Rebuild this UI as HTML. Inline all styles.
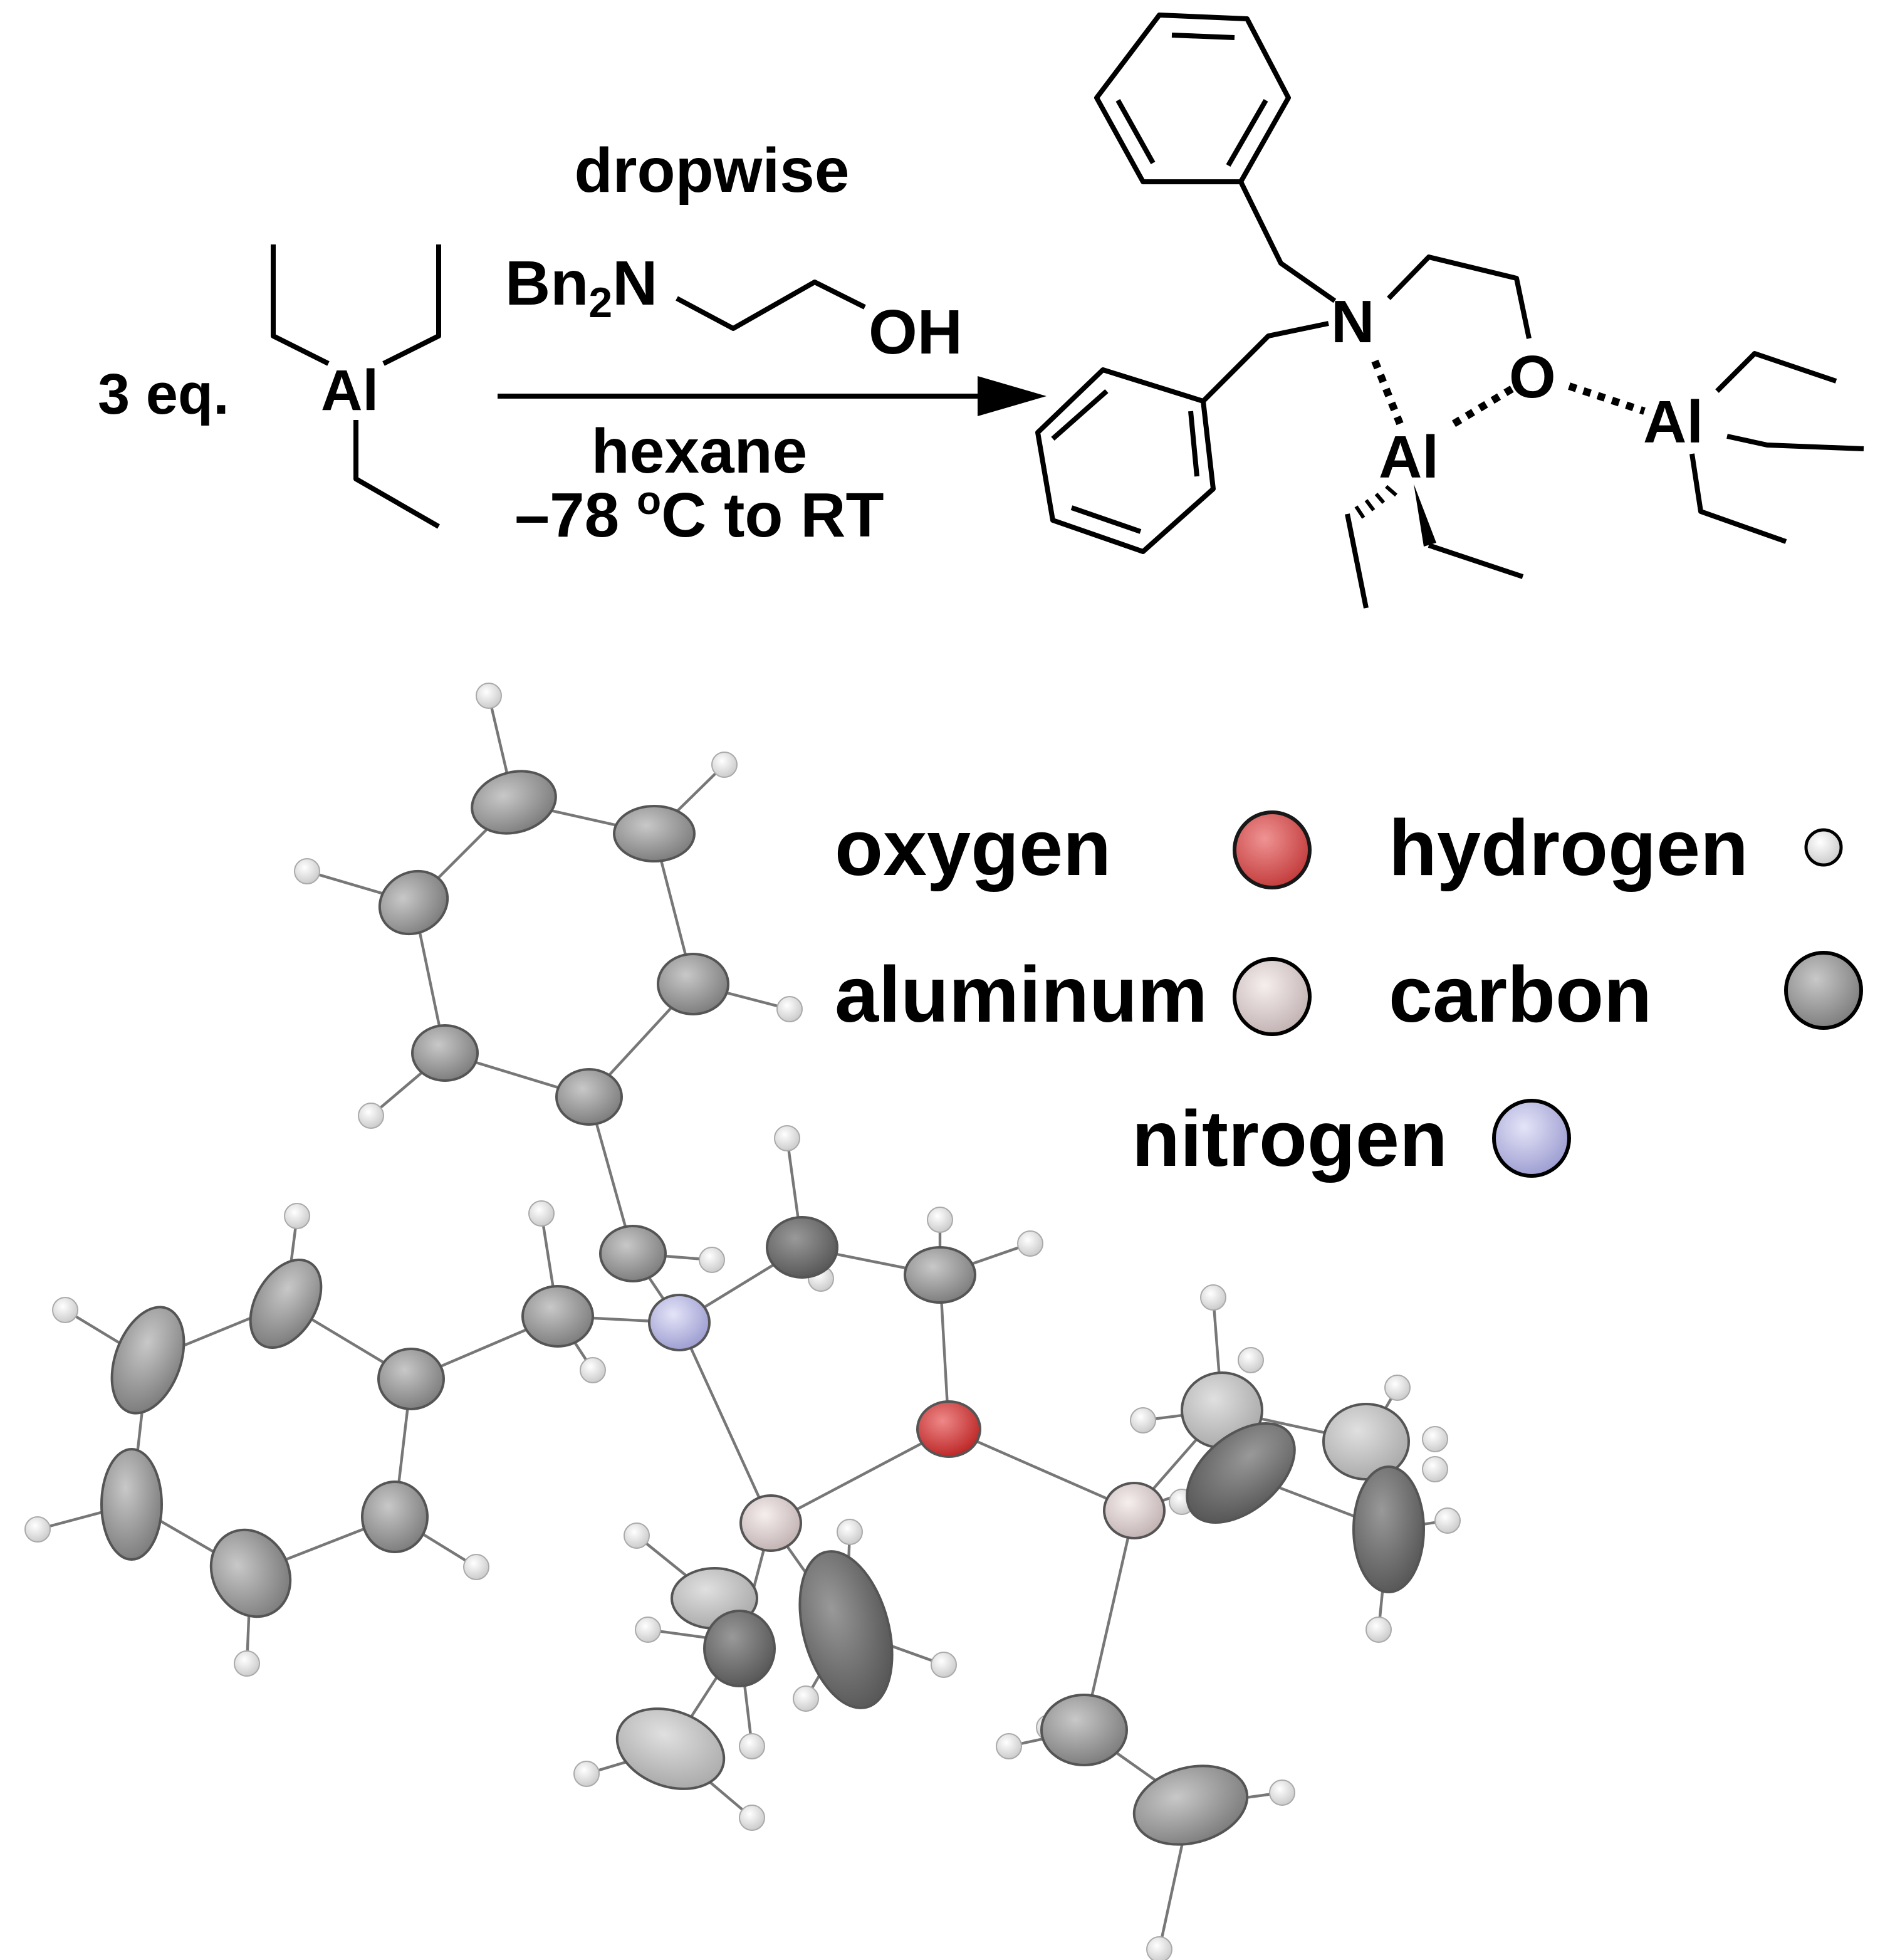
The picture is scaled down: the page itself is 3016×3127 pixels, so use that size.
<!DOCTYPE html>
<html><head><meta charset="utf-8"><style>
html,body{margin:0;padding:0;background:#fff;}
svg{display:block;}
text{font-family:"Liberation Sans",Arial,sans-serif;font-weight:bold;fill:#000;}
</style></head><body>
<svg width="3016" height="3127" viewBox="0 0 1508 1563.5" xmlns="http://www.w3.org/2000/svg">
<defs>
<radialGradient id="gC" cx="40%" cy="35%" r="70%"><stop offset="0" stop-color="#c8c8c8"/><stop offset="1" stop-color="#7a7a7a"/></radialGradient>
<radialGradient id="gD" cx="40%" cy="35%" r="70%"><stop offset="0" stop-color="#999"/><stop offset="1" stop-color="#555"/></radialGradient>
<radialGradient id="gL" cx="40%" cy="35%" r="70%"><stop offset="0" stop-color="#e0e0e0"/><stop offset="1" stop-color="#a8a8a8"/></radialGradient>
<radialGradient id="gH" cx="40%" cy="35%" r="70%"><stop offset="0" stop-color="#fff"/><stop offset="1" stop-color="#c8c8c8"/></radialGradient>
<radialGradient id="gO" cx="40%" cy="35%" r="70%"><stop offset="0" stop-color="#e88"/><stop offset="1" stop-color="#b22"/></radialGradient>
<radialGradient id="gN" cx="40%" cy="35%" r="70%"><stop offset="0" stop-color="#e4e4f8"/><stop offset="1" stop-color="#9a9ad0"/></radialGradient>
<radialGradient id="gA" cx="40%" cy="35%" r="70%"><stop offset="0" stop-color="#f6eeee"/><stop offset="1" stop-color="#c0b0b0"/></radialGradient>
</defs>

<!-- Top scheme -->
<g stroke="#000" stroke-width="4" fill="none" stroke-linejoin="round">
<polyline points="218,195 218,268 262,290"/>
<polyline points="350,195 350,268 306,290"/>
<polyline points="284,335 284,382 350,420"/>
<polyline points="540,238 585,262 650,225 690,245"/>
<line x1="397" y1="316" x2="790" y2="316"/>
</g>
<path d="M780,300 L835,316 L780,332 z" fill="#000"/>
<text x="78" y="330" font-size="46">3 eq.</text>
<text x="256" y="327" font-size="46">Al</text>
<text x="568" y="153" font-size="50" text-anchor="middle">dropwise</text>
<text x="403" y="243" font-size="50">Bn<tspan font-size="34" dy="10">2</tspan><tspan dy="-10">N</tspan></text>
<text x="693" y="282" font-size="50">OH</text>
<text x="558" y="377" font-size="50" text-anchor="middle">hexane</text>
<text x="558" y="428" font-size="50" text-anchor="middle">–78 <tspan font-size="32" dy="-18">o</tspan><tspan dy="18">C to RT</tspan></text>

<!-- product -->
<g stroke="#000" stroke-width="4" fill="none" stroke-linejoin="round">
<polygon points="925,12 995,15 1028,78 990,145 912,145 875,78"/>
<line x1="935" y1="28" x2="985" y2="30"/>
<line x1="1010" y1="80" x2="980" y2="132"/>
<line x1="920" y1="130" x2="892" y2="80"/>
<polyline points="990,145 1022,210 1065,240"/>
<polygon points="960,320 880,295 828,345 840,415 912,440 968,390"/>
<line x1="883" y1="312" x2="840" y2="350"/>
<line x1="855" y1="405" x2="910" y2="424"/>
<line x1="955" y1="380" x2="950" y2="328"/>
<polyline points="1060,258 1012,268 960,320"/>
<polyline points="1108,238 1140,205 1210,222 1220,270"/>
<polyline points="1370,312 1400,282 1465,304"/>
<polyline points="1378,348 1410,355 1487,358"/>
<polyline points="1350,362 1357,408 1425,432"/>
<polyline points="1075,410 1090,485"/>
<polyline points="1140,435 1215,460"/>
</g>
<g stroke="#000" stroke-width="6" stroke-dasharray="6,6">
<line x1="1097" y1="288" x2="1117" y2="338"/>
<line x1="1160" y1="338" x2="1210" y2="308"/>
<line x1="1252" y1="308" x2="1312" y2="328"/>
</g>
<g stroke="#000" stroke-width="3">
<line x1="1106" y1="388" x2="1114" y2="395"/><line x1="1098" y1="394" x2="1104" y2="401"/><line x1="1090" y1="399" x2="1096" y2="407"/><line x1="1082" y1="404" x2="1088" y2="413"/>
</g>
<path d="M1128,386 L1136,436 L1146,433 z" fill="#000"/>
<text x="1062" y="273" font-size="48">N</text>
<text x="1204" y="317" font-size="48">O</text>
<text x="1100" y="381" font-size="48">Al</text>
<text x="1311" y="353" font-size="48">Al</text>

<!-- Legend -->
<text x="666" y="698" font-size="63">oxygen</text>
<circle cx="1015" cy="678" r="30" fill="url(#gO)" stroke="#000" stroke-width="3" opacity="0.9"/>
<text x="1108" y="698" font-size="63">hydrogen</text>
<circle cx="1455" cy="676" r="14" fill="url(#gH)" stroke="#000" stroke-width="2.5"/>
<text x="666" y="815" font-size="63">aluminum</text>
<circle cx="1015" cy="795" r="30" fill="url(#gA)" stroke="#000" stroke-width="3"/>
<text x="1108" y="815" font-size="63">carbon</text>
<circle cx="1455" cy="790" r="30" fill="url(#gC)" stroke="#000" stroke-width="3"/>
<text x="903" y="930" font-size="63">nitrogen</text>
<circle cx="1222" cy="908" r="30" fill="url(#gN)" stroke="#000" stroke-width="3"/>

<!-- ORTEP bonds -->
<g stroke="#777" stroke-width="2.2" fill="none">
<polygon points="410,640 522,665 553,785 470,875 355,840 330,720"/>
<line x1="410" y1="640" x2="390" y2="555"/><line x1="522" y1="665" x2="578" y2="610"/>
<line x1="330" y1="720" x2="245" y2="695"/><line x1="553" y1="785" x2="630" y2="805"/>
<line x1="355" y1="840" x2="296" y2="890"/>
<polyline points="470,875 505,1000 542,1055"/><line x1="505" y1="1000" x2="568" y2="1005"/>
<polyline points="328,1100 445,1050 542,1055"/><line x1="445" y1="1050" x2="432" y2="968"/><line x1="445" y1="1050" x2="473" y2="1093"/>
<polygon points="328,1100 228,1040 118,1085 105,1200 200,1255 315,1210"/>
<line x1="228" y1="1040" x2="237" y2="970"/><line x1="118" y1="1085" x2="52" y2="1045"/>
<line x1="105" y1="1200" x2="30" y2="1220"/><line x1="200" y1="1255" x2="197" y2="1327"/><line x1="315" y1="1210" x2="380" y2="1250"/>
<polyline points="542,1055 640,995 750,1017 757,1140 615,1215 542,1055"/>
<line x1="640" y1="995" x2="628" y2="908"/><line x1="640" y1="995" x2="655" y2="1020"/>
<line x1="750" y1="1017" x2="750" y2="973"/><line x1="750" y1="1017" x2="822" y2="992"/>
<line x1="757" y1="1140" x2="905" y2="1205"/>
<polyline points="615,1215 590,1310 535,1395"/><line x1="615" y1="1215" x2="675" y2="1300"/>
<line x1="590" y1="1310" x2="517" y2="1300"/><line x1="590" y1="1310" x2="600" y2="1393"/>
<line x1="535" y1="1395" x2="468" y2="1415"/><line x1="535" y1="1395" x2="600" y2="1450"/><line x1="570" y1="1275" x2="508" y2="1225"/>
<line x1="675" y1="1300" x2="678" y2="1222"/><line x1="675" y1="1300" x2="753" y2="1328"/><line x1="675" y1="1300" x2="643" y2="1355"/>
<polyline points="905,1205 865,1380 950,1440"/><line x1="865" y1="1380" x2="805" y2="1393"/>
<line x1="950" y1="1440" x2="925" y2="1555"/><line x1="950" y1="1440" x2="1023" y2="1430"/>
<polyline points="905,1205 990,1175 1108,1220"/><polyline points="905,1205 975,1125 1090,1150"/>
<line x1="975" y1="1125" x2="968" y2="1035"/><line x1="975" y1="1125" x2="912" y2="1133"/>
<line x1="1090" y1="1150" x2="1115" y2="1107"/><line x1="1108" y1="1220" x2="1155" y2="1213"/><line x1="1108" y1="1220" x2="1100" y2="1300"/>
</g>

<!-- H atoms -->
<g fill="url(#gH)" stroke="#aaa" stroke-width="1">
<circle cx="390" cy="555" r="10"/><circle cx="578" cy="610" r="10"/><circle cx="245" cy="695" r="10"/><circle cx="630" cy="805" r="10"/><circle cx="296" cy="890" r="10"/>
<circle cx="568" cy="1005" r="10"/><circle cx="432" cy="968" r="10"/><circle cx="473" cy="1093" r="10"/>
<circle cx="237" cy="970" r="10"/><circle cx="52" cy="1045" r="10"/><circle cx="30" cy="1220" r="10"/><circle cx="197" cy="1327" r="10"/><circle cx="380" cy="1250" r="10"/>
<circle cx="628" cy="908" r="10"/><circle cx="655" cy="1020" r="10"/><circle cx="750" cy="973" r="10"/><circle cx="822" cy="992" r="10"/>
<circle cx="508" cy="1225" r="10"/><circle cx="517" cy="1300" r="10"/><circle cx="600" cy="1393" r="10"/><circle cx="468" cy="1415" r="10"/><circle cx="600" cy="1450" r="10"/><circle cx="643" cy="1355" r="10"/><circle cx="753" cy="1328" r="10"/><circle cx="678" cy="1222" r="10"/>
<circle cx="968" cy="1035" r="10"/><circle cx="998" cy="1085" r="10"/><circle cx="912" cy="1133" r="10"/><circle cx="1115" cy="1107" r="10"/><circle cx="1145" cy="1148" r="10"/><circle cx="1145" cy="1172" r="10"/><circle cx="1155" cy="1213" r="10"/><circle cx="1100" cy="1300" r="10"/><circle cx="805" cy="1393" r="10"/><circle cx="837" cy="1378" r="10"/><circle cx="975" cy="1438" r="10"/><circle cx="1023" cy="1430" r="10"/><circle cx="925" cy="1555" r="10"/><circle cx="943" cy="1198" r="10"/>
</g>

<!-- Heavy atoms -->
<g stroke="#555" stroke-width="2">
<ellipse cx="410" cy="640" rx="34" ry="24" fill="url(#gC)" transform="rotate(-15 410 640)"/>
<ellipse cx="522" cy="665" rx="32" ry="22" fill="url(#gC)"/>
<ellipse cx="553" cy="785" rx="28" ry="24" fill="url(#gC)"/>
<ellipse cx="470" cy="875" rx="26" ry="22" fill="url(#gC)"/>
<ellipse cx="355" cy="840" rx="26" ry="22" fill="url(#gC)"/>
<ellipse cx="330" cy="720" rx="28" ry="24" fill="url(#gC)" transform="rotate(-30 330 720)"/>
<ellipse cx="505" cy="1000" rx="26" ry="22" fill="url(#gC)"/>
<ellipse cx="445" cy="1050" rx="28" ry="24" fill="url(#gC)"/>
<ellipse cx="328" cy="1100" rx="26" ry="24" fill="url(#gC)"/>
<ellipse cx="228" cy="1040" rx="24" ry="38" fill="url(#gC)" transform="rotate(30 228 1040)"/>
<ellipse cx="118" cy="1085" rx="26" ry="44" fill="url(#gC)" transform="rotate(20 118 1085)"/>
<ellipse cx="105" cy="1200" rx="24" ry="44" fill="url(#gC)"/>
<ellipse cx="200" cy="1255" rx="30" ry="36" fill="url(#gC)" transform="rotate(-30 200 1255)"/>
<ellipse cx="315" cy="1210" rx="26" ry="28" fill="url(#gC)"/>
<ellipse cx="640" cy="995" rx="28" ry="24" fill="url(#gD)"/>
<ellipse cx="750" cy="1017" rx="28" ry="22" fill="url(#gC)"/>
<ellipse cx="570" cy="1275" rx="34" ry="24" fill="url(#gL)"/>
<ellipse cx="590" cy="1315" rx="28" ry="30" fill="url(#gD)"/>
<ellipse cx="675" cy="1300" rx="34" ry="64" fill="url(#gD)" transform="rotate(-15 675 1300)"/>
<ellipse cx="535" cy="1395" rx="44" ry="30" fill="url(#gL)" transform="rotate(20 535 1395)"/>
<ellipse cx="975" cy="1125" rx="32" ry="30" fill="url(#gL)"/>
<ellipse cx="990" cy="1175" rx="30" ry="50" fill="url(#gD)" transform="rotate(50 990 1175)"/>
<ellipse cx="1090" cy="1150" rx="34" ry="30" fill="url(#gL)"/>
<ellipse cx="1108" cy="1220" rx="28" ry="50" fill="url(#gD)"/>
<ellipse cx="865" cy="1380" rx="34" ry="28" fill="url(#gC)"/>
<ellipse cx="950" cy="1440" rx="46" ry="30" fill="url(#gC)" transform="rotate(-15 950 1440)"/>
<ellipse cx="542" cy="1055" rx="24" ry="22" fill="url(#gN)"/>
<ellipse cx="757" cy="1140" rx="25" ry="22" fill="url(#gO)"/>
<ellipse cx="615" cy="1215" rx="24" ry="22" fill="url(#gA)"/>
<ellipse cx="905" cy="1205" rx="24" ry="22" fill="url(#gA)"/>
</g>
</svg>
</body></html>
